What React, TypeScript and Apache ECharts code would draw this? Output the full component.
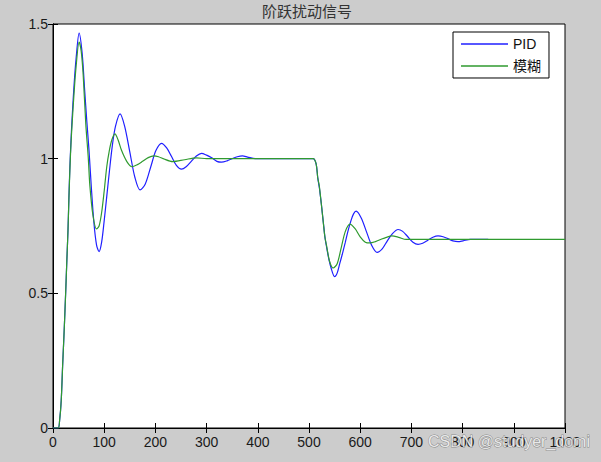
import React, { useEffect, useRef } from "react";
import * as echarts from "echarts";

const titleText = "阶跃扰动信号";
const seriesNames = ["PID", "模糊"];
const xTicks = [0, 100, 200, 300, 400, 500, 600, 700, 800, 900, 1000];
const yTicks = [0, 0.5, 1, 1.5];
const watermark = "CSDN @studyer_domi";

// PID response (time, value)
const pidT = [0, 10, 13, 16, 19, 22, 24.7, 27, 29.3, 31, 33, 35, 37, 41, 45, 51, 57, 62, 66, 70, 75, 80, 85, 90, 95, 100, 105, 110, 116, 122, 131, 140, 150, 160, 170, 180, 191, 201, 212, 222, 231, 241, 251, 260, 270, 280, 290, 300, 310, 320, 329, 340, 350, 360, 370, 380, 395, 508, 514, 517, 520, 523, 525, 527, 529, 531, 535, 539, 543, 550, 555, 560, 565, 571, 576, 582, 587, 592, 602, 612, 622, 633, 643, 653, 663, 674, 683, 693, 703, 713, 722, 732, 742, 752, 762, 771, 781, 791, 801, 815, 850];
const pidV = [0, 0, 0.03, 0.1, 0.24, 0.37, 0.5, 0.62, 0.735, 0.85, 0.97, 1.06, 1.14, 1.27, 1.37, 1.466, 1.39, 1.25, 1.14, 1.04, 0.89, 0.76, 0.68, 0.655, 0.69, 0.77, 0.86, 0.95, 1.05, 1.12, 1.166, 1.12, 1.025, 0.93, 0.884, 0.905, 0.97, 1.03, 1.057, 1.04, 1.01, 0.975, 0.961, 0.97, 0.99, 1.01, 1.02, 1.013, 1.003, 0.99, 0.987, 0.992, 1.0, 1.007, 1.01, 1.006, 1.0, 1.0, 0.98, 0.93, 0.895, 0.85, 0.817, 0.78, 0.746, 0.71, 0.665, 0.625, 0.595, 0.562, 0.575, 0.61, 0.645, 0.69, 0.73, 0.77, 0.795, 0.805, 0.78, 0.73, 0.68, 0.652, 0.665, 0.695, 0.722, 0.737, 0.73, 0.71, 0.69, 0.682, 0.686, 0.697, 0.708, 0.713, 0.71, 0.703, 0.695, 0.692, 0.695, 0.7, 0.7];

// Fuzzy controller response (time, value)
const fuzzyT = [0, 10, 13, 16, 19, 22, 24.7, 27, 29.3, 31, 33, 35, 37, 41, 45, 51, 55, 59, 64, 69, 72, 78, 85, 90, 95, 100, 105, 110, 115, 121, 127, 134, 144, 154, 165, 175, 186, 197, 206, 215, 234, 257, 280, 300, 508, 514, 517, 520, 523, 527, 531, 535, 540, 547, 555, 563, 571, 580, 590, 600, 610, 619, 630, 640, 651, 662, 675, 690, 720, 1000];
const fuzzyV = [0, 0, 0.03, 0.1, 0.24, 0.37, 0.5, 0.62, 0.735, 0.847, 0.96, 1.05, 1.12, 1.24, 1.34, 1.433, 1.4, 1.31, 1.13, 1.0, 0.9, 0.79, 0.739, 0.75, 0.8, 0.88, 0.97, 1.03, 1.07, 1.092, 1.07, 1.03, 0.99, 0.97, 0.978, 0.99, 1.004, 1.01, 1.007, 1.0, 0.989, 0.996, 1.003, 1.0, 1.0, 0.98, 0.93, 0.9, 0.85, 0.78, 0.71, 0.67, 0.62, 0.594, 0.61, 0.67, 0.73, 0.757, 0.74, 0.71, 0.69, 0.687, 0.692, 0.7, 0.708, 0.713, 0.708, 0.7, 0.7, 0.7];

export default function App() {
  const ref = useRef<HTMLDivElement>(null);
  useEffect(() => {
    if (!ref.current) return;
    const chart = echarts.init(ref.current, undefined, { renderer: "svg" });
    const pidData = pidT.map((t, i) => [t, pidV[i]]);
    const fuzzyData = fuzzyT.map((t, i) => [t, fuzzyV[i]]);
    const font = "Liberation Sans, Arial, sans-serif";
    const labelColor = "#1a1a1a";
    chart.setOption({
      animation: false,
      backgroundColor: "#cccccc",
      textStyle: { fontFamily: font },
      grid: {
        left: 53,
        right: 36,
        top: 24,
        bottom: 34,
        show: true,
        backgroundColor: "#ffffff",
        borderColor: "#000000",
        borderWidth: 1,
      },
      legend: {
        data: seriesNames,
        orient: "vertical",
        left: 453,
        top: 32,
        width: 106,
        icon: "rect",
        itemWidth: 47,
        itemHeight: 1.5,
        itemGap: 8,
        padding: [5, 8, 5, 8],
        backgroundColor: "#ffffff",
        borderColor: "#000000",
        borderWidth: 1,
        textStyle: { fontSize: 14, color: "#111111", fontFamily: "Liberation Sans, Noto Sans CJK SC, sans-serif" },
      },
      xAxis: [
        {
          type: "value",
          min: 0,
          max: 1000,
          interval: 100,
          axisLine: { show: true, lineStyle: { color: "#000" } },
          axisTick: { show: true, inside: true, length: 5, lineStyle: { color: "#000" } },
          axisLabel: { color: labelColor, fontSize: 14, margin: 7, formatter: (v: number) => (xTicks.includes(v) ? String(v) : "") },
          splitLine: { show: false },
        },
        {
          type: "value",
          position: "top",
          min: 0,
          max: 1000,
          interval: 100,
          axisLine: { show: true, lineStyle: { color: "#000" } },
          axisTick: { show: true, inside: true, length: 5, lineStyle: { color: "#000" } },
          axisLabel: { show: false },
          splitLine: { show: false },
        },
      ],
      yAxis: [
        {
          type: "value",
          min: 0,
          max: 1.5,
          interval: 0.5,
          axisLine: { show: true, lineStyle: { color: "#000" } },
          axisTick: { show: true, inside: true, length: 5, lineStyle: { color: "#000" } },
          axisLabel: { color: labelColor, fontSize: 14, margin: 5, formatter: (v: number) => (yTicks.includes(v) ? String(v) : "") },
          splitLine: { show: false },
        },
        {
          type: "value",
          position: "right",
          min: 0,
          max: 1.5,
          interval: 0.5,
          axisLine: { show: true, lineStyle: { color: "#000" } },
          axisTick: { show: true, inside: true, length: 5, lineStyle: { color: "#000" } },
          axisLabel: { show: false },
          splitLine: { show: false },
        },
      ],
      series: [
        {
          name: seriesNames[0],
          type: "line",
          data: pidData,
          showSymbol: false,
          smooth: 0.3,
          color: "#1f1fff",
          lineStyle: { width: 1.2, color: "#1f1fff" },
          z: 2,
        },
        {
          name: seriesNames[1],
          type: "line",
          data: fuzzyData,
          showSymbol: false,
          smooth: 0.3,
          color: "#2f9a2f",
          lineStyle: { width: 1.2, color: "#2f9a2f" },
          z: 3,
        },
      ],
      graphic: [
        {
          type: "text",
          x: 307,
          y: 10,
          style: {
            text: titleText,
            fontSize: 15,
            fill: "#333333",
            fontFamily: "Noto Sans CJK SC, sans-serif",
            align: "center",
            verticalAlign: "middle",
          },
        },
        {
          type: "text",
          x: 590,
          y: 441,
          z: 100,
          style: {
            text: watermark,
            fontSize: 16,
            fill: "rgba(255,255,255,0.8)",
            stroke: "rgba(90,90,90,0.6)",
            lineWidth: 1,
            fontFamily: "Liberation Sans, sans-serif",
            align: "right",
            verticalAlign: "middle",
          },
        },
      ],
    });
    return () => chart.dispose();
  }, []);
  return <div ref={ref} style={{ width: 601, height: 462, position: "fixed", left: 0, top: 0 }} />;
}
